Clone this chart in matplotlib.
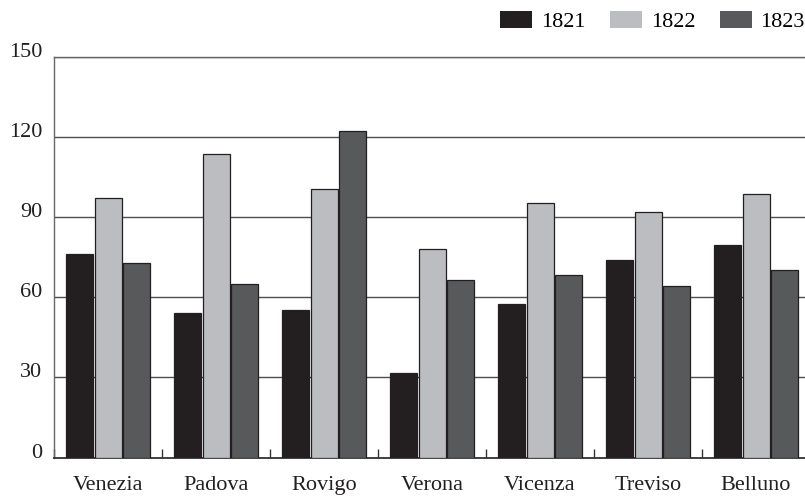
import matplotlib.pyplot as plt
from matplotlib.patches import Patch
import numpy as np

# province e anni
province = ['Venezia', 'Padova', 'Rovigo', 'Verona', 'Vicenza', 'Treviso', 'Belluno']
anni = ['1821', '1822', '1823']

v1821 = [76.1, 54.1, 55.2, 31.5, 57.4, 73.9, 79.5]
v1822 = [97.2, 113.6, 100.5, 78.0, 95.5, 91.9, 98.6]
v1823 = [72.7, 65.0, 122.4, 66.6, 68.5, 64.2, 70.4]

yticks = [0, 30, 60, 90, 120, 150]

colori = ['#231f20', '#bcbdc0', '#58595b']

plt.rcParams['font.family'] = ['Liberation Serif', 'DejaVu Serif']

fig = plt.figure(figsize=(8.05, 4.96), dpi=100)
ax = fig.add_axes([54 / 805, (496 - 457.5) / 496, (810 - 54) / 805, (457.5 - 57) / 496])

x = np.arange(len(province))
w = 0.25
off = 0.264
for i, vals in enumerate([v1821, v1822, v1823]):
    ax.bar(x + (i - 1) * off, vals, width=w, color=colori[i],
           edgecolor='#231f20', linewidth=0.9, zorder=3)

ax.set_xlim(-0.5, len(province) - 0.5)
ax.set_ylim(0, 150)

# griglia orizzontale
ax.set_yticks(yticks)
ax.yaxis.grid(True, color='#4d4d4d', linewidth=1.0)
ax.set_axisbelow(True)
ax.tick_params(axis='y', length=0, pad=8.6, labelsize=16, colors='#231f20')
for lbl in ax.get_yticklabels():
    lbl.set_verticalalignment('baseline')

# etichette categorie e tacche tra i gruppi
ax.set_xticks(x)
ax.set_xticklabels(province)
ax.set_xticks(np.arange(len(province) + 1) - 0.5, minor=True)
ax.tick_params(axis='x', which='major', length=0, pad=13.5, labelsize=16, colors='#231f20')
ax.tick_params(axis='x', which='minor', direction='in', length=6.5, width=1.0, color='#333333')

ax.spines['right'].set_visible(False)
ax.spines['top'].set_color('#666666')
ax.spines['top'].set_linewidth(1.0)
ax.spines['left'].set_color('#666666')
ax.spines['left'].set_linewidth(1.0)
ax.spines['bottom'].set_color('#333333')
ax.spines['bottom'].set_linewidth(1.3)

# legenda in alto
handles = [Patch(facecolor=c, edgecolor='none') for c in colori]
fig.legend(handles, anni, loc='upper left', bbox_to_anchor=(500 / 805, 1 - 10.5 / 496),
           ncol=3, frameon=False, fontsize=16, borderpad=0, borderaxespad=0,
           handlelength=1.44, handleheight=0.81, handletextpad=0.4, columnspacing=1.1)

fig.savefig('out.png', dpi=100)
